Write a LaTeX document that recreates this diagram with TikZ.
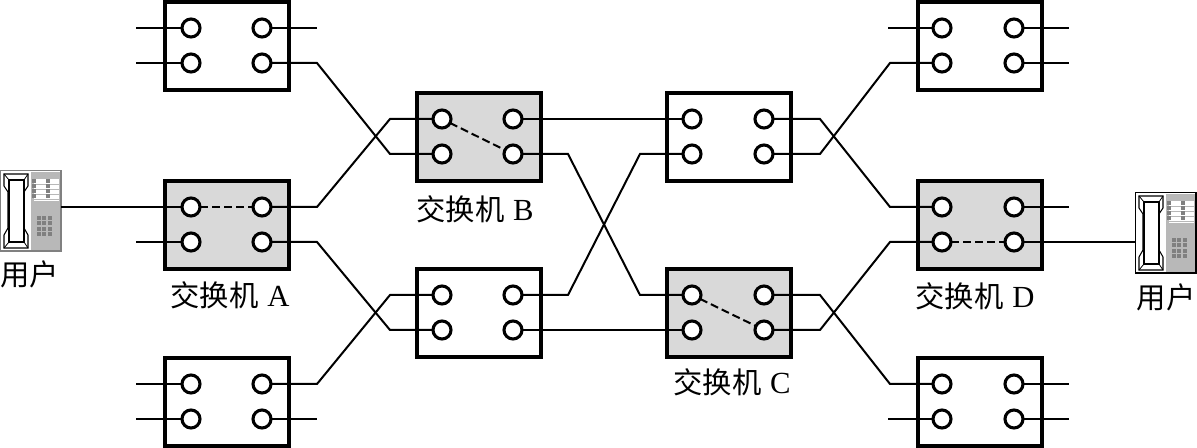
\documentclass[tikz,border=0pt]{standalone}
\usepackage{fontspec}
\setmainfont{Liberation Serif}
\newfontfamily\cjk{Noto Sans CJK SC}
\definecolor{swgray}{gray}{0.85}
\definecolor{phgray}{gray}{0.72}
\definecolor{keygray}{gray}{0.5}
\tikzset{
  swbox/.style={draw=black,line width=3pt,minimum width=93pt,minimum height=66pt,inner sep=0pt,outer sep=0pt},
  port/.style={circle,draw=black,fill=white,line width=2.3pt,minimum size=13.5pt,inner sep=0pt,outer sep=0pt},
  wire/.style={draw=black,line width=1.5pt,line join=miter},
  linkdash/.style={draw=black,line width=1.5pt,dash pattern=on 6pt off 3pt},
  lab/.style={inner sep=0pt,font=\fontsize{22pt}{22pt}\selectfont}
}
\newcommand{\swunit}[6]{% name, left x, top y, fill, left port x, right port x
  \node[swbox,fill=#4,anchor=north west] (#1) at (#2,#3) {};
  \node[port] (#1a) at (#5,{#3+26}) {};
  \node[port] (#1b) at (#6,{#3+26}) {};
  \node[port] (#1c) at (#5,{#3+61}) {};
  \node[port] (#1d) at (#6,{#3+61}) {};
}
\newcommand{\swlabel}[4]{\node[lab] (#1) at (#2,#3) {{\cjk 交换机}\hspace{0.3em}{\fontsize{23pt}{23pt}\selectfont #4}};}
\newcommand{\phoneunit}[3]{% name, x, y
  \begin{scope}[shift={(#2,#3)}]
    \node[draw=#1bd,line width=1.2pt,fill=white,minimum width=45.5pt,minimum height=60.5pt,inner sep=0pt,outer sep=0pt,anchor=north west] (#1) at (0.5,0.5) {};
    \fill[phgray] (31,2) rectangle (60,80);
    \fill[white] (34,9) rectangle (59,31);
    \foreach \yy in {14,19,24,29} \draw[phgray,line width=0.6pt] (34,\yy) -- (59,\yy);
    \foreach \xx in {32,46} \foreach \yy in {9,14,19,24} \fill[keygray] (\xx,\yy) rectangle ++(3.5,4);
    \foreach \xx in {37,42,48} \foreach \yy in {46,51,57,62} \fill[keygray] (\xx,\yy) rectangle ++(4,4);
    \draw[black,line width=0.8pt] (4,4) -- (28,4) -- (28,16) -- (24,22) -- (24,58) -- (28,65) -- (28,78) -- (4,78) -- (4,65) -- (8,58) -- (8,22) -- (4,16) -- cycle;
    \draw[black,line width=0.8pt] (9,10) -- (24,10) -- (24,72) -- (9,72) -- cycle;
    \draw[black,line width=0.6pt] (4,4) -- (9,10) (28,4) -- (24,10) (4,78) -- (9,72) (28,78) -- (24,72);
  \end{scope}
}
\begin{document}
\begin{tikzpicture}[x=0.75pt,y=-0.75pt]
\useasboundingbox (0,0) rectangle (1197,448);
% switches
\swunit{tl}{165}{2}{white}{191}{262}
\swunit{sa}{165}{181}{swgray}{191}{262}
\swunit{bl}{165}{358}{white}{191}{262}
\swunit{sb}{417}{93}{swgray}{442}{513}
\swunit{me}{417}{269}{white}{442}{513}
\swunit{mf}{667}{93}{white}{692}{764}
\swunit{sc}{667}{269}{swgray}{692}{764}
\swunit{tr}{918}{2}{white}{942}{1014}
\swunit{sd}{918}{181}{swgray}{942}{1014}
\swunit{br}{918}{358}{white}{942}{1014}
% phones
\colorlet{lpbd}{gray}
\colorlet{rpbd}{black}
\phoneunit{lp}{0}{170}
\phoneunit{rp}{1135}{192}
% free ends
\foreach \n/\x/\y in {s1/136/28,s2/136/63,s3/317/28,s4/136/242,s5/136/384,s6/136/419,s7/317/419,
  s8/888/28,s9/1069/28,s10/1069/63,s11/1069/207,s12/888/419,s13/1069/384,s14/1069/419}
  \coordinate (\n) at (\x,\y);
% stubs
\draw[wire] (s1) -- (tla);
\draw[wire] (s2) -- (tlc);
\draw[wire] (tlb) -- (s3);
\draw[wire] (s4) -- (sac);
\draw[wire] (s5) -- (bla);
\draw[wire] (s6) -- (blc);
\draw[wire] (bld) -- (s7);
\draw[wire] (s8) -- (tra);
\draw[wire] (trb) -- (s9);
\draw[wire] (trd) -- (s10);
\draw[wire] (sdb) -- (s11);
\draw[wire] (s12) -- (brc);
\draw[wire] (brb) -- (s13);
\draw[wire] (brd) -- (s14);
% telephone lines
\draw[wire] (lp.east |- saa) -- (saa);
\draw[wire] (sdd) -- (rp.west |- sdd);
% trunks
\draw[wire] (tld) -- (317,63) -- (390,154) -- (sbc);
\draw[wire] (sab) -- (317,207) -- (390,119) -- (sba);
\draw[wire] (sad) -- (317,242) -- (390,330) -- (mec);
\draw[wire] (blb) -- (317,384) -- (390,295) -- (mea);
\draw[wire] (sbb) -- (mfa);
\draw[wire] (sbd) -- (568,154) -- (640,295) -- (sca);
\draw[wire] (meb) -- (568,295) -- (640,154) -- (mfc);
\draw[wire] (med) -- (scc);
\draw[wire] (mfb) -- (820,119) -- (890,207) -- (sda);
\draw[wire] (mfd) -- (820,154) -- (890,63) -- (trc);
\draw[wire] (scb) -- (820,295) -- (890,384) -- (bra);
\draw[wire] (scd) -- (820,330) -- (890,242) -- (sdc);
% internal links
\draw[linkdash] (saa) -- (sab);
\draw[linkdash] (sba) -- (sbd);
\draw[linkdash] (sca) -- (scd);
\draw[linkdash] (sdc) -- (sdd);
% labels
\swlabel{la}{230}{295}{A}
\swlabel{lb}{475}{209}{B}
\swlabel{lc}{732}{382}{C}
\swlabel{ld}{975}{296}{D}
\node[lab] (lu) at (30,274) {\cjk 用户};
\node[lab] (ru) at (1166,297) {\cjk 用户};
\end{tikzpicture}
\end{document}
